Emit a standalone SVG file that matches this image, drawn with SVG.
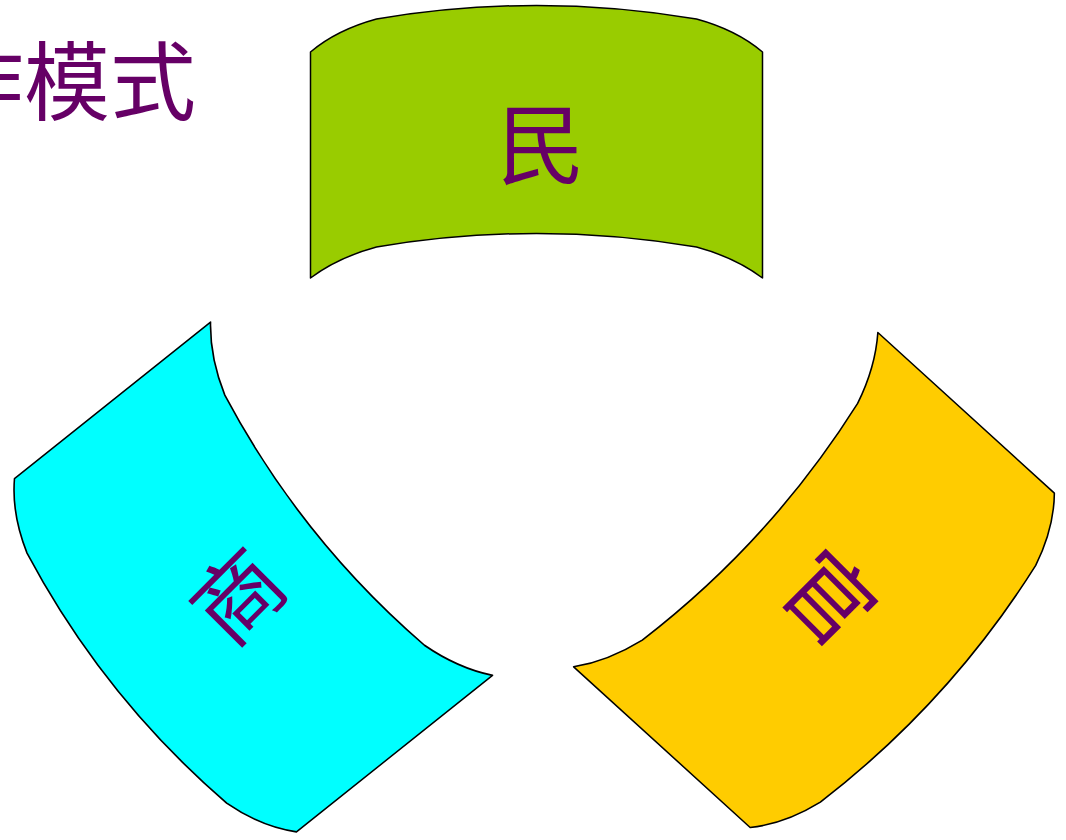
<svg xmlns="http://www.w3.org/2000/svg" width="1066" height="840" viewBox="0 0 1066 840">
  <defs>
    <style>
      .band { stroke: #000000; stroke-width: 1.5; vector-effect: non-scaling-stroke; stroke-linejoin: round; }
      .lbl { font-family: "Noto Sans CJK SC", "Noto Sans", sans-serif; font-size: 88px; fill: #660066; text-anchor: middle; dominant-baseline: central; }
      .title { font-family: "Noto Sans CJK SC", "Noto Sans", sans-serif; font-size: 86px; fill: #660066; }
    </style>
    <path id="bandShape" d="M-226,-113 C-206,-130 -182,-140 -160,-146 Q0,-173 160,-146 C182,-140 206,-130 226,-113 L226,113 C206,98 182,88 160,82 Q0,55 -160,82 C-182,88 -206,98 -226,113 Z"/>
  </defs>
  <rect width="1066" height="840" fill="#ffffff"/>
  <g id="title">
    <text class="title" x="-62" y="114">作模式</text>
  </g>
  <g id="node-min">
    <use href="#bandShape" class="band" fill="#99CC00" transform="translate(536.5,165)"/>
    <text class="lbl" x="541" y="138">民</text>
  </g>
  <g id="node-shang">
    <use href="#bandShape" class="band" fill="#00FFFF" transform="translate(253.5,577) rotate(231.4) scale(1,1.11)"/>
    <text class="lbl" x="234" y="592" transform="rotate(-45 234 592)">商</text>
  </g>
  <g id="node-guan">
    <use href="#bandShape" class="band" fill="#FFCC00" transform="translate(814,580) rotate(132.3) scale(1,1.056)"/>
    <text class="lbl" x="833" y="594" transform="rotate(45 833 594)">官</text>
  </g>
</svg>
